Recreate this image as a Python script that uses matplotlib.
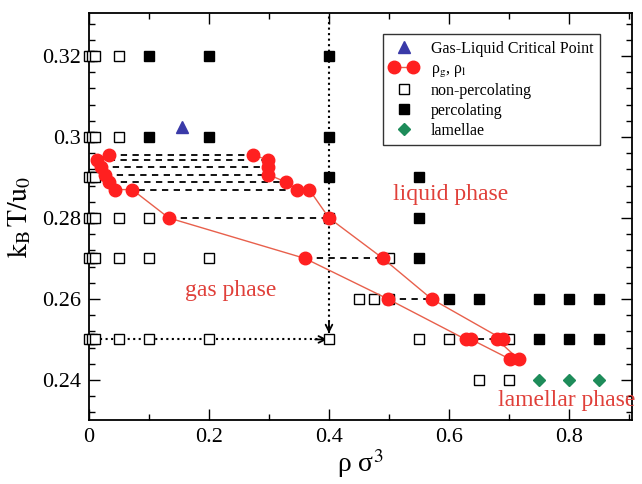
import matplotlib
matplotlib.use('Agg')
import matplotlib.pyplot as plt
from matplotlib.legend_handler import HandlerLine2D
from matplotlib.ticker import MultipleLocator, FormatStrFormatter

plt.rcParams['font.family'] = ['Liberation Serif', 'DejaVu Serif']
plt.rcParams['mathtext.fontset'] = 'stix'

# open squares: non-percolating state points
nonperc_rho = [0.0, 0.005, 0.01, 0.05,
               0.0, 0.005, 0.01, 0.05,
               0.0, 0.005, 0.01,
               0.0, 0.005, 0.01, 0.05, 0.1,
               0.0, 0.005, 0.01, 0.05, 0.1, 0.2, 0.5,
               0.45, 0.475, 0.5,
               0.0, 0.005, 0.01, 0.05, 0.1, 0.2, 0.4, 0.55, 0.6, 0.7,
               0.65, 0.7]
nonperc_T = [0.32] * 4 + [0.30] * 4 + [0.29] * 3 + [0.28] * 5 + [0.27] * 7 + \
            [0.26] * 3 + [0.25] * 10 + [0.24] * 2

# filled squares: percolating state points
perc_rho = [0.1, 0.2, 0.4,
            0.1, 0.2, 0.4,
            0.4, 0.55,
            0.4, 0.55,
            0.55,
            0.6, 0.65, 0.75, 0.8, 0.85,
            0.75, 0.8, 0.85]
perc_T = [0.32] * 3 + [0.30] * 3 + [0.29] * 2 + [0.28] * 2 + [0.27] + \
         [0.26] * 5 + [0.25] * 3

# lamellae
lam_rho = [0.75, 0.8, 0.85]
lam_T = [0.24, 0.24, 0.24]

# gas-liquid critical point
crit_rho = [0.155]
crit_T = [0.3025]

# coexisting densities (gas, liquid) at each temperature
coex_T = [0.2956, 0.2942, 0.2926, 0.2907, 0.2888, 0.2870, 0.2870,
          0.280, 0.270, 0.260, 0.250, 0.250, 0.2451]
rho_gas = [0.033, 0.013, 0.020, 0.026, 0.034, 0.043, 0.072,
           0.133, 0.360, 0.498, 0.628, 0.637, 0.702]
rho_liq = [0.274, 0.299, 0.299, 0.299, 0.329, 0.346, 0.367,
           0.400, 0.490, 0.571, 0.690, 0.680, 0.716]

# percolation path arrows (start, end)
path_h = [(0.0, 0.25), (0.397, 0.25)]
path_v = [(0.4, 0.331), (0.4, 0.2515)]

fig = plt.figure(figsize=(6.42, 4.84), dpi=100)
ax = fig.add_axes([0.1386, 0.1322, 0.8458, 0.8409])

red = '#ff2020'
line_red = '#e8604c'
text_red = '#e0403a'

# tie lines, one per temperature
for t in sorted(set(coex_T)):
    g = min(x for x, tt in zip(rho_gas, coex_T) if tt == t)
    l = max(x for x, tt in zip(rho_liq, coex_T) if tt == t)
    ax.plot([g, l], [t, t], color='black', ls=(0, (3.5, 3)), lw=1.3, zorder=2)

# paths
ax.plot([path_h[0][0], path_h[1][0]], [path_h[0][1], path_h[1][1]],
        color='black', ls=':', lw=1.5, zorder=2, clip_on=False)
ax.annotate('', xy=path_h[1], xytext=(path_h[1][0] - 0.02, path_h[1][1]),
            arrowprops=dict(arrowstyle='->', color='black', lw=1.3,
                            mutation_scale=12, shrinkA=0, shrinkB=0))
ax.plot([path_v[0][0], path_v[1][0]], [path_v[0][1], path_v[1][1]],
        color='black', ls=':', lw=1.5, zorder=2)
ax.annotate('', xy=path_v[1], xytext=(path_v[1][0], path_v[1][1] + 0.003),
            arrowprops=dict(arrowstyle='->', color='black', lw=1.3,
                            mutation_scale=12, shrinkA=0, shrinkB=0))

ax.plot(nonperc_rho, nonperc_T, ls='none', marker='s', ms=7.5,
        mfc='white', mec='black', mew=1.0, zorder=3, clip_on=False,
        label='non-percolating')
ax.plot(perc_rho, perc_T, ls='none', marker='s', ms=7.5,
        mfc='black', mec='black', mew=1.0, zorder=3,
        label='percolating')
ax.plot(lam_rho, lam_T, ls='none', marker='D', ms=6.5,
        mfc='#1e8c5a', mec='#1e8c5a', zorder=3, label='lamellae')
ax.plot(crit_rho, crit_T, ls='none', marker='^', ms=8,
        mfc='#3a3aa8', mec='#3a3aa8', zorder=3,
        label='Gas-Liquid Critical Point')

branch_x = rho_gas + rho_liq[::-1]
branch_y = coex_T + coex_T[::-1]
coex, = ax.plot(branch_x, branch_y, color=line_red, lw=1.0, marker='o',
                ms=9, mfc=red, mec=red, zorder=4,
                label=r'ρ$_\mathrm{g}$, ρ$_\mathrm{l}$')

ax.text(0.602, 0.2857, 'liquid phase', color=text_red, fontsize=17,
        ha='center', va='center')
ax.text(0.237, 0.2622, 'gas phase', color=text_red, fontsize=17,
        ha='center', va='center')
ax.text(0.797, 0.2350, 'lamellar phase', color=text_red, fontsize=17,
        ha='center', va='center', clip_on=False)

ax.set_xlim(0, 0.905)
ax.set_ylim(0.2301, 0.3306)
ax.xaxis.set_major_locator(MultipleLocator(0.2))
ax.xaxis.set_minor_locator(MultipleLocator(0.1))
ax.yaxis.set_major_locator(MultipleLocator(0.02))
ax.yaxis.set_minor_locator(MultipleLocator(0.004))
ax.xaxis.set_major_formatter(FormatStrFormatter('%g'))
ax.yaxis.set_major_formatter(FormatStrFormatter('%g'))
ax.tick_params(which='both', direction='in', top=True, right=True,
               labelsize=16, width=1.0)
ax.tick_params(which='major', length=8, pad=6)
ax.tick_params(which='minor', length=4)
for s in ax.spines.values():
    s.set_linewidth(1.3)

ax.set_xlabel(r'ρ σ$^3$', fontsize=20, labelpad=0)
ax.set_ylabel(r'$\mathrm{k_B\,T/u_0}$', fontsize=20, labelpad=6)

handles, labels = ax.get_legend_handles_labels()
order = [3, 4, 0, 1, 2]
leg = ax.legend([handles[i] for i in order], [labels[i] for i in order],
                loc='upper right', bbox_to_anchor=(0.941, 0.948),
                borderaxespad=0, fontsize=11.5, numpoints=1, handlelength=1.8,
                handler_map={coex: HandlerLine2D(numpoints=2)},
                frameon=True, fancybox=False, borderpad=0.4,
                labelspacing=0.25, handletextpad=0.8)
leg.get_frame().set_edgecolor('black')
leg.get_frame().set_linewidth(1.0)

fig.savefig('out.png', dpi=100)
